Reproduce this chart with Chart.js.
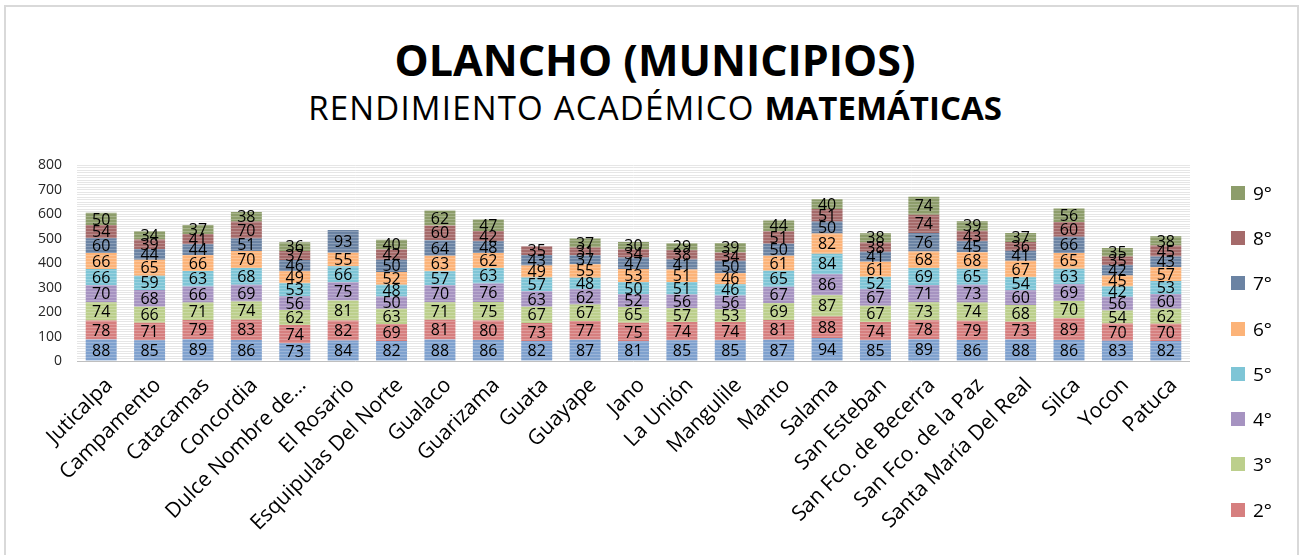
<!DOCTYPE html>
<html lang="es">
<head>
<meta charset="utf-8">
<title>Olancho (municipios) - Rendimiento académico matemáticas</title>
<script src="https://cdn.jsdelivr.net/npm/chart.js@4/dist/chart.umd.min.js"></script>
<style>
  html, body { margin: 0; padding: 0; background: #fff; overflow: hidden; }
  body { width: 1300px; height: 555px; position: relative; font-family: 'Open Sans', sans-serif; }
  .frame { position: absolute; left: 4px; top: 5px; width: 1291px; height: 620px; border: 2px solid #d9d9d9; }
  .title { position: absolute; left: 0; width: 1310px; text-align: center; color: #000; line-height: 1; white-space: nowrap; }
  .title--main { top: 38px; font-size: 43px; font-weight: 700; }
  .title--sub { top: 91px; font-size: 33px; font-weight: 400; letter-spacing: 1.2px; }
  .title--sub b { font-weight: 700; letter-spacing: 0; }
  #chart { position: absolute; left: 0; top: 142px; }
  .legend { position: absolute; left: 1231px; top: 170px; height: 365px; overflow: hidden; }
  .legend__item { display: flex; align-items: center; height: 45.3px; font-size: 19px; color: #000; }
  .legend__box { width: 14px; height: 14px; margin-right: 8px; }
</style>
</head>
<body>
<div class="frame"></div>
<div class="title title--main">OLANCHO (MUNICIPIOS)</div>
<div class="title title--sub">RENDIMIENTO ACADÉMICO <b>MATEMÁTICAS</b></div>
<canvas id="chart" width="1300" height="460"></canvas>
<div class="legend" id="legend"></div>

<script>
// Municipios (eje X)
const municipios = [
  'Juticalpa', 'Campamento', 'Catacamas', 'Concordia', 'Dulce Nombre de...',
  'El Rosario', 'Esquipulas Del Norte', 'Gualaco', 'Guarizama', 'Guata',
  'Guayape', 'Jano', 'La Unión', 'Mangulile', 'Manto', 'Salama',
  'San Esteban', 'San Fco. de Becerra', 'San Fco. de la Paz',
  'Santa María Del Real', 'Silca', 'Yocon', 'Patuca',
];

// Rendimiento por grado, mismo orden que municipios
const grado1 = [88, 85, 89, 86, 73, 84, 82, 88, 86, 82, 87, 81, 85, 85, 87, 94, 85, 89, 86, 88, 86, 83, 82];
const grado2 = [78, 71, 79, 83, 74, 82, 69, 81, 80, 73, 77, 75, 74, 74, 81, 88, 74, 78, 79, 73, 89, 70, 70];
const grado3 = [74, 66, 71, 74, 62, 81, 63, 71, 75, 67, 67, 65, 57, 53, 69, 87, 67, 73, 74, 68, 70, 54, 62];
const grado4 = [70, 68, 66, 69, 56, 75, 50, 70, 76, 63, 62, 52, 56, 56, 67, 86, 67, 71, 73, 60, 69, 56, 60];
const grado5 = [66, 59, 63, 68, 53, 66, 48, 57, 63, 57, 48, 50, 51, 46, 65, 84, 52, 69, 65, 54, 63, 42, 53];
const grado6 = [66, 65, 66, 70, 49, 55, 52, 63, 62, 49, 55, 53, 51, 46, 61, 82, 61, 68, 68, 67, 65, 45, 57];
const grado7 = [60, 44, 44, 51, 46, 93, 50, 64, 48, 43, 37, 47, 41, 50, 50, 50, 41, 76, 45, 41, 66, 42, 43];
const grado8 = [54, 39, 41, 70, 37, null, 42, 60, 42, 35, 31, 34, 38, 34, 51, 51, 38, 74, 43, 36, 60, 35, 45];
const grado9 = [50, 34, 37, 38, 36, null, 40, 62, 47, null, 37, 30, 29, 39, 44, 40, 38, 74, 39, 37, 56, 35, 38];

const grados = ['1°', '2°', '3°', '4°', '5°', '6°', '7°', '8°', '9°'];
const series = [grado1, grado2, grado3, grado4, grado5, grado6, grado7, grado8, grado9];
const colores = ['#7fa1ce', '#d67f7f', '#bccf8c', '#a693c1', '#7ec5d6', '#fcb378', '#6b83a3', '#a56a6a', '#8d9d6b'];

const yTicks = [0, 100, 200, 300, 400, 500, 600, 700, 800];

/**
 * Striped fill, like the washed-out texture of the original bars.
 */
function stripes(color) {
  const c = document.createElement('canvas');
  c.width = 4;
  c.height = 3;
  const g = c.getContext('2d');
  g.fillStyle = color;
  g.fillRect(0, 0, 4, 3);
  g.fillStyle = 'rgba(255,255,255,0.22)';
  g.fillRect(0, 2, 4, 1);
  return g.createPattern(c, 'repeat');
}

// Value labels centred in each segment
const segmentLabels = {
  id: 'segmentLabels',
  afterDatasetsDraw(chart) {
    const ctx = chart.ctx;
    ctx.save();
    ctx.font = '16px "Open Sans", sans-serif';
    ctx.fillStyle = '#000';
    ctx.textAlign = 'center';
    ctx.textBaseline = 'middle';
    chart.data.datasets.forEach((ds, i) => {
      const meta = chart.getDatasetMeta(i);
      meta.data.forEach((bar, j) => {
        const v = ds.data[j];
        if (!v) return;
        const { x, y, base } = bar.getProps(['x', 'y', 'base'], true);
        ctx.fillText(v, x, (y + base) / 2 + 1);
      });
    });
    ctx.restore();
  },
};

const datasets = series.map((data, i) => ({
  label: grados[i],
  data,
  backgroundColor: stripes(colores[i]),
  borderWidth: 0,
  barPercentage: 0.64,
  categoryPercentage: 1,
}));

new Chart(document.getElementById('chart'), {
  type: 'bar',
  data: { labels: municipios, datasets },
  options: {
    responsive: false,
    animation: false,
    devicePixelRatio: 1,
    layout: { padding: { top: 6, right: 110, left: 0, bottom: 0 } },
    plugins: {
      legend: { display: false },
      tooltip: { enabled: false },
    },
    scales: {
      x: {
        stacked: true,
        grid: { display: false },
        border: { display: false },
        afterFit: (scale) => { scale.height = 241; },
        ticks: {
          color: '#000',
          font: { family: 'Open Sans', size: 21 },
          maxRotation: 45,
          minRotation: 45,
          autoSkip: false,
          padding: 4,
          labelOffset: 8,
        },
      },
      y: {
        stacked: true,
        min: 0,
        max: 800,
        afterFit: (scale) => { scale.width = 77; },
        afterBuildTicks: (scale) => {
          // fine horizontal lines every 10 units, labels only on yTicks
          const t = [];
          for (let v = 0; v <= 800; v += 10) t.push({ value: v });
          scale.ticks = t;
        },
        border: { display: false },
        grid: {
          drawTicks: false,
          color: (c) => (c.tick.value === 0 ? '#bfbfbf' : '#e6e6e6'),
        },
        ticks: {
          autoSkip: false,
          padding: 15,
          color: '#262626',
          font: { family: 'Open Sans', size: 14 },
          callback: (v) => (yTicks.includes(v) ? v : ''),
        },
      },
    },
  },
  plugins: [segmentLabels],
});

// Legend, top grade first (the lowest entry falls outside the frame)
const legend = document.getElementById('legend');
for (let i = grados.length - 1; i >= 0; i--) {
  const item = document.createElement('div');
  item.className = 'legend__item';
  item.innerHTML = `<span class="legend__box" style="background:${colores[i]}"></span>${grados[i]}`;
  legend.appendChild(item);
}
</script>
</body>
</html>
